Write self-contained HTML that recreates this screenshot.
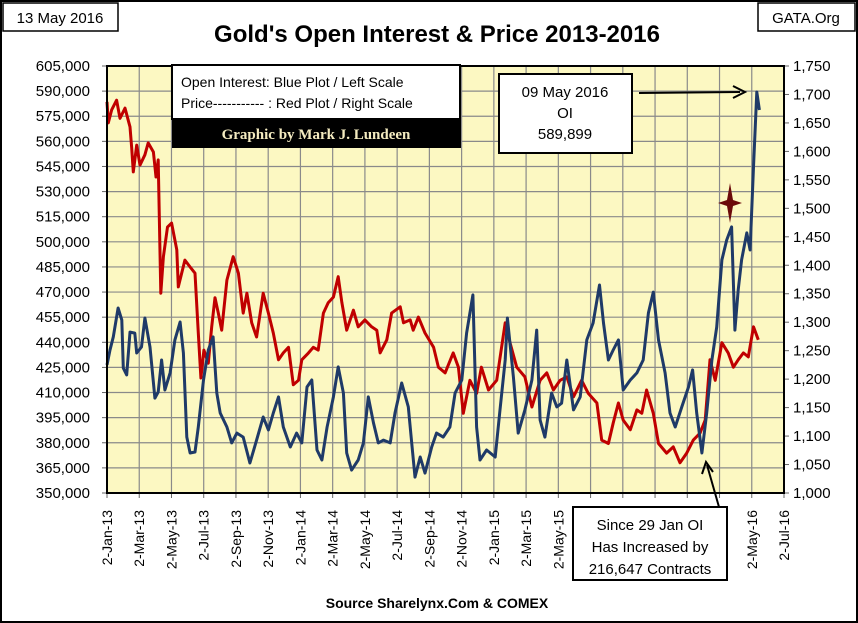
<!DOCTYPE html>
<html><head><meta charset="utf-8">
<style>
body{margin:0;background:#fff;}
svg{display:block;font-family:"Liberation Sans",Arial,sans-serif;}
</style></head>
<body>
<svg id="chart" width="858" height="623" viewBox="0 0 858 623" xmlns="http://www.w3.org/2000/svg">
<rect x="1" y="1" width="856" height="621" fill="#fff" stroke="#000" stroke-width="2"/>
<rect x="3" y="3" width="115" height="28" fill="#fff" stroke="#000" stroke-width="1.5"/>
<text x="60" y="23" font-size="15" text-anchor="middle">13 May 2016</text>
<rect x="758" y="3" width="97" height="28" fill="#fff" stroke="#000" stroke-width="1.5"/>
<text x="806" y="23" font-size="15" text-anchor="middle">GATA.Org</text>
<text x="437" y="42" font-size="24" font-weight="bold" text-anchor="middle">Gold's Open Interest &amp; Price 2013-2016</text>
<rect x="107" y="66" width="677" height="427" fill="#FCF8C2"/>
<g id="grid"></g>
<g id="axes"></g>
<g id="series"></g>
<rect x="107" y="66" width="677" height="427" fill="none" stroke="#000" stroke-width="2"/>

<g>
<rect x="172" y="65" width="288" height="54" fill="#fff" stroke="#000" stroke-width="2"/>
<text x="181" y="87" font-size="14">Open Interest:  Blue Plot / Left Scale</text>
<text x="181" y="108" font-size="14">Price----------- : Red Plot / Right Scale</text>
<rect x="172" y="119" width="289" height="29" fill="#000"/>
<text x="316" y="139" font-size="15" font-weight="bold" fill="#F4EBC0" text-anchor="middle" font-family="Liberation Serif, serif">Graphic by Mark J. Lundeen</text>
</g>

<g>
<rect x="499" y="74" width="133" height="79" fill="#fff" stroke="#000" stroke-width="2"/>
<text x="565" y="97" font-size="15" text-anchor="middle">09 May 2016</text>
<text x="565" y="118" font-size="15" text-anchor="middle">OI</text>
<text x="565" y="139" font-size="15" text-anchor="middle">589,899</text>
<line x1="639" y1="93" x2="740" y2="92" stroke="#000" stroke-width="2"/>
<path d="M733,86 L745,92 L733,98" fill="none" stroke="#000" stroke-width="2"/>
</g>
<path d="M730,183 L733,200 L742,203 L733,206 L730,223 L727,206 L718,203 L727,200 Z" fill="#6B0A0A"/>

<g id="xlabels"></g>

<g>
<line x1="719" y1="507" x2="707" y2="465" stroke="#000" stroke-width="2"/>
<path d="M702,474 L706,462 L713,472" fill="none" stroke="#000" stroke-width="2"/>
<rect x="573" y="507" width="154" height="73" fill="#fff" stroke="#000" stroke-width="2"/>
<text x="650" y="530" font-size="15" text-anchor="middle">Since 29 Jan OI</text>
<text x="650" y="552" font-size="15" text-anchor="middle">Has Increased by</text>
<text x="650" y="574" font-size="15" text-anchor="middle">216,647 Contracts</text>
</g>
<text x="437" y="608" font-size="14" font-weight="bold" text-anchor="middle">Source Sharelynx.Com &amp; COMEX</text>
</svg>
<script>
// weeks since 2-Jan-2013
const priceWeeks = [0,0.35,1.27,2.6,3.5,4.85,6.2,6.66,7.1,8.0,8.9,10.2,11.1,12.5,13.2,13.8,14.5,15.2,16.3,17.4,18.8,19.2,21.0,22.4,23.7,24.6,25.3,26.1,27.3,28.2,29.1,30.0,30.9,32.3,34.0,35.4,36.7,37.7,39.0,40.3,42.1,43.5,44.8,46.2,47.5,48.9,50.2,51.6,52.5,54.3,55.6,56.9,58.3,59.6,61.0,62.3,63.3,64.6,66.4,67.7,69.5,71.3,72.7,73.6,75.4,76.7,79.0,79.9,81.7,82.5,83.9,85.7,88.0,89.3,91.1,93.3,94.7,96.0,97.8,99.6,100.9,102.8,105.0,107.3,108.6,110.4,112.6,114.5,116.7,118.5,120.3,122.1,123.9,125.7,127.9,129.7,132.0,133.3,135.1,136.4,137.8,139.1,141.0,142.8,144.1,145.4,147.2,148.6,150.8,152.6,154.4,156.2,158.0,159.8,161.2,162.5,163.9,165.7,167.4,168.8,170.1,171.5,172.8,174.2,175.5];
const priceValues = [1687,1650,1673,1690,1658,1676,1643,1606,1564,1611,1576,1594,1615,1599,1555,1585,1351,1415,1467,1474,1427,1362,1409,1397,1386,1281,1202,1251,1228,1292,1343,1316,1286,1374,1415,1386,1316,1351,1299,1274,1351,1316,1281,1234,1246,1256,1190,1198,1234,1246,1256,1251,1316,1334,1344,1380,1334,1286,1321,1292,1304,1292,1286,1246,1269,1316,1327,1299,1304,1286,1309,1281,1256,1221,1211,1246,1221,1140,1198,1175,1221,1181,1198,1299,1264,1221,1204,1151,1198,1211,1181,1198,1204,1169,1198,1175,1158,1093,1087,1123,1158,1128,1111,1146,1140,1181,1140,1087,1070,1081,1053,1070,1093,1105,1128,1234,1198,1264,1246,1221,1234,1246,1239,1292,1269];
const oiWeeks = [0,0.8,1.7,3.0,4.0,4.4,5.3,6.2,7.5,8.0,9.3,10.2,11.6,12.9,13.8,14.7,15.6,17.0,18.3,19.7,20.6,21.5,22.4,23.7,24.6,26.0,27.3,28.6,29.6,30.5,32.3,33.6,35.0,36.7,38.5,40.3,42.1,43.5,44.8,46.2,47.5,49.4,51.1,52.5,53.9,55.2,56.6,57.9,59.3,61.0,62.3,63.7,64.6,65.9,67.7,69.1,70.4,71.8,73.1,74.5,76.3,77.6,79.4,81.2,82.1,83.0,84.4,85.7,87.5,88.8,90.6,92.4,93.8,95.6,96.9,98.6,99.6,100.5,102.3,104.6,105.9,107.3,107.9,109.5,110.8,112.6,114.5,115.8,116.7,118.0,119.8,121.2,122.5,123.9,125.7,127.5,129.3,131.0,132.7,133.8,135.1,136.4,137.8,139.1,141.0,142.8,144.5,145.9,147.2,148.6,150.4,151.7,153.1,154.9,156.7,157.8,158.9,160.3,161.6,163.0,164.3,165.7,167.0,168.3,169.2,170.1,171.0,172.4,173.3,174.2,175.1,175.8];
const oiValues = [426500,435400,443200,460500,453300,424600,420500,446100,445500,433600,437200,454500,437200,406700,410300,429400,411500,421700,441400,452100,433600,383400,373900,374500,389400,417500,435400,443200,409700,397800,389400,379900,385800,383400,367900,381600,395400,387600,397800,407400,389400,377500,385800,379900,413300,417500,375700,369700,389400,407400,425300,409700,373900,363700,369700,379900,407400,391800,379900,381600,379900,397800,415700,401400,379900,359500,371500,361900,377500,385800,383400,389400,409700,417500,445500,468300,389400,369700,375700,371500,399600,429400,454500,419300,385800,399600,417500,447300,393600,383400,409700,401400,403600,429400,399600,407400,441400,451500,474200,451500,429400,435400,441400,411500,417500,421700,429400,457500,470000,441400,421700,397800,389400,401400,413300,423500,397800,373900,397800,429400,449100,489200,501100,508900,447300,471200,489200,505300,495100,544700,589500,578700];
const leftTicks = [350000,365000,380000,395000,410000,425000,440000,455000,470000,485000,500000,515000,530000,545000,560000,575000,590000,605000];
const rightTicks = [1000,1050,1100,1150,1200,1250,1300,1350,1400,1450,1500,1550,1600,1650,1700,1750];
const xTickLabels = ["2-Jan-13","2-Mar-13","2-May-13","2-Jul-13","2-Sep-13","2-Nov-13","2-Jan-14","2-Mar-14","2-May-14","2-Jul-14","2-Sep-14","2-Nov-14","2-Jan-15","2-Mar-15","2-May-15","2-Jul-15","2-Sep-15","2-Nov-15","2-Jan-16","2-Mar-16","2-May-16","2-Jul-16"];

const NS="http://www.w3.org/2000/svg";
const PL=107,PR=784,PT=66,PB=493,TOTALW=1277/7;
function xw(w){return PL+w/TOTALW*(PR-PL);}
function yL(v){return PB-(v-350000)/(605000-350000)*(PB-PT);}
function yR(v){return PB-(v-1000)/(1750-1000)*(PB-PT);}
function mk(tag,attrs,parent){const e=document.createElementNS(NS,tag);for(const k in attrs)e.setAttribute(k,attrs[k]);parent.appendChild(e);return e;}
const grid=document.getElementById('grid'),axes=document.getElementById('axes'),series=document.getElementById('series'),xl=document.getElementById('xlabels');
const fmt=v=>v.toLocaleString('en-US');
leftTicks.forEach(v=>{
  const y=yL(v);
  const g=mk('line',{x1:PL,x2:PR,y1:y,y2:y,stroke:'#8a8a8a','stroke-width':1.2},grid);
  
  
  mk('line',{x1:PL-5,x2:PL,y1:y,y2:y,stroke:'#666'},axes);
  const t=mk('text',{x:90,y:y+5,'font-size':15,'text-anchor':'end'},axes);
  t.textContent=fmt(v);
  
  
});
rightTicks.forEach(v=>{
  const y=yR(v);
  mk('line',{x1:PR,x2:PR+5,y1:y,y2:y,stroke:'#666'},axes);
  const t=mk('text',{x:793,y:y+5,'font-size':15,'text-anchor':'start'},axes);
  t.textContent=fmt(v);
  
  
});
xTickLabels.forEach((lab,i)=>{
  const x=PL+i*(PR-PL)/(xTickLabels.length-1);
  const g=mk('line',{x1:x,x2:x,y1:PT,y2:PB,stroke:'#8a8a8a','stroke-width':1.2},grid);
  
  
  mk('line',{x1:x,x2:x,y1:PB,y2:PB+5,stroke:'#666'},axes);
  const t=mk('text',{transform:`translate(${x+5},510) rotate(-90)`,'font-size':14,'text-anchor':'end'},xl);
  t.textContent=lab;
  
  
});
function pathD(ws,vs,fy){return ws.map((w,i)=>(i?'L':'M')+xw(w).toFixed(1)+','+fy(vs[i]).toFixed(1)).join(' ');}
const red=mk('path',{d:pathD(priceWeeks,priceValues,yR),fill:'none',stroke:'#C00000','stroke-width':3,'stroke-linejoin':'round'},series);


const blue=mk('path',{d:pathD(oiWeeks,oiValues,yL),fill:'none',stroke:'#1F3A68','stroke-width':3,'stroke-linejoin':'round'},series);


</script>
</body></html>
